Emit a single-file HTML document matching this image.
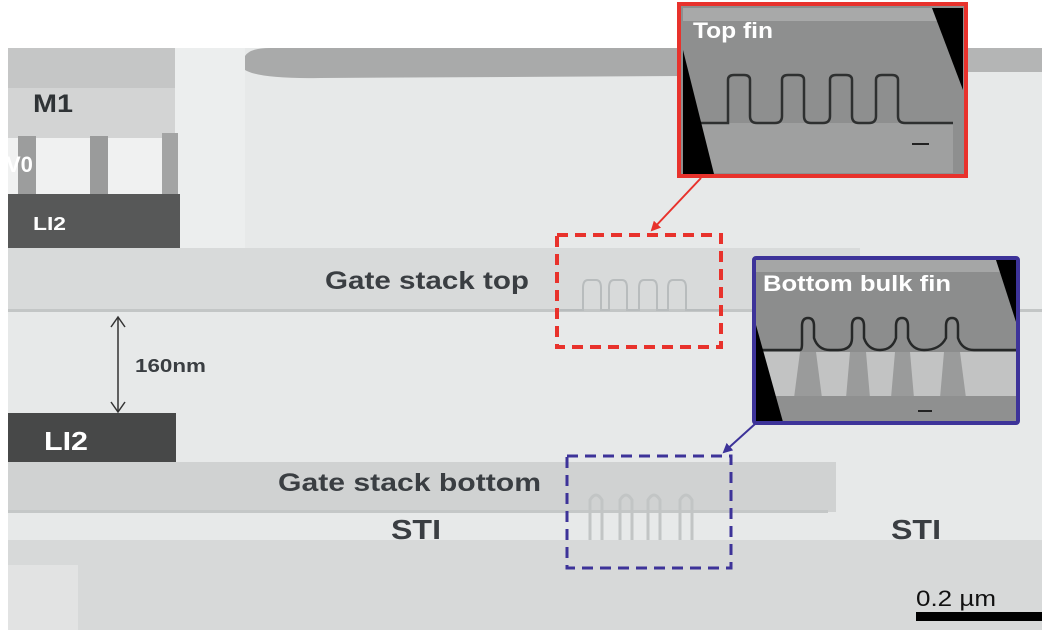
<!DOCTYPE html>
<html><head><meta charset="utf-8"><style>
html,body{margin:0;padding:0;background:#fff;}
svg{display:block;}
text{font-family:"Liberation Sans",sans-serif;font-weight:bold;}
</style></head><body>
<svg width="1046" height="633" viewBox="0 0 1046 633" xmlns="http://www.w3.org/2000/svg">
<defs>
<marker id="ar" markerWidth="10" markerHeight="10" refX="8" refY="5" orient="auto" markerUnits="userSpaceOnUse"><path d="M0,0 L10,5 L0,10 z" fill="#e8322c"/></marker>
<marker id="ab" markerWidth="10" markerHeight="10" refX="8" refY="5" orient="auto" markerUnits="userSpaceOnUse"><path d="M0,0 L10,5 L0,10 z" fill="#3d3399"/></marker>
</defs>
<rect x="8" y="48" width="1034" height="582" fill="#e7e9e9"/>
<rect x="175" y="48" width="70" height="200" fill="#eceeee"/>
<path d="M245,56 Q250,48 270,48 L680,48 L680,76 L320,78 Q260,79 245,70 z" fill="#a9aaaa"/>
<rect x="960" y="48" width="82" height="24" fill="#b4b5b5"/>
<rect x="8" y="48" width="167" height="40" fill="#c5c6c6"/>
<rect x="8" y="88" width="167" height="50" fill="#d3d4d4"/>
<rect x="8" y="138" width="167" height="57" fill="#f0f1f1"/>
<rect x="18" y="136" width="18" height="60" fill="#9c9d9d"/>
<rect x="90" y="136" width="18" height="60" fill="#9a9b9b"/>
<rect x="162" y="133" width="16" height="63" fill="#a3a4a4"/>
<rect x="8" y="194" width="172" height="55" fill="#575858"/>
<rect x="8" y="248" width="852" height="62" fill="#d8dada"/>
<rect x="8" y="309" width="1034" height="3" fill="#c3c6c6"/>
<path d="M560,310 L583,310 L583,288 Q583,280 588,280 L596,280 Q601,280 601,288 L601,310 L609,310 L609,288 Q609,280 614,280 L622,280 Q627,280 627,288 L627,310 L639,310 L639,288 Q639,280 644,280 L652,280 Q657,280 657,288 L657,310 L668,310 L668,288 Q668,280 673,280 L681,280 Q686,280 686,288 L686,310 L720,310" fill="none" stroke="#b8bcbd" stroke-width="2"/>
<rect x="8" y="413" width="168" height="50" fill="#474848"/>
<rect x="8" y="462" width="828" height="50" fill="#d0d2d2"/>
<rect x="8" y="510" width="820" height="3" fill="#c4c7c7"/>
<g fill="none" stroke="#c2c5c5" stroke-width="3">
<path d="M590,540 L590,500 Q596,490 602,500 L602,540"/>
<path d="M620,540 L620,500 Q626,490 632,500 L632,540"/>
<path d="M648,540 L648,500 Q654,490 660,500 L660,540"/>
<path d="M680,540 L680,500 Q686,490 692,500 L692,540"/>
</g>
<rect x="8" y="540" width="1034" height="90" fill="#d7d9d9"/>
<rect x="8" y="565" width="70" height="65" fill="#e2e3e3"/>
<text x="33" y="112" font-size="25" fill="#2f3336" textLength="40" lengthAdjust="spacingAndGlyphs">M1</text>
<text x="6" y="172" font-size="22" fill="#ffffff">V0</text>
<text x="33" y="230" font-size="18" fill="#ffffff" textLength="33" lengthAdjust="spacingAndGlyphs">LI2</text>
<text x="44" y="450" font-size="26" fill="#ffffff" textLength="44" lengthAdjust="spacingAndGlyphs">LI2</text>
<text x="325" y="289" font-size="25" fill="#3a3e42" textLength="204" lengthAdjust="spacingAndGlyphs">Gate stack top</text>
<text x="278" y="491" font-size="25" fill="#3a3e42" textLength="263" lengthAdjust="spacingAndGlyphs">Gate stack bottom</text>
<text x="391" y="539" font-size="28" fill="#3a3e42" textLength="50" lengthAdjust="spacingAndGlyphs">STI</text>
<text x="891" y="539" font-size="28" fill="#3a3e42" textLength="50" lengthAdjust="spacingAndGlyphs">STI</text>
<text x="135" y="372" font-size="18" fill="#3a3e42" textLength="71" lengthAdjust="spacingAndGlyphs">160nm</text>
<line x1="118" y1="318" x2="118" y2="411" stroke="#333" stroke-width="1.5"/>
<path d="M111,327 L118,317 L125,327" fill="none" stroke="#333" stroke-width="1.5"/>
<path d="M111,402 L118,412 L125,402" fill="none" stroke="#333" stroke-width="1.5"/>
<text x="916" y="606" font-size="22" style="font-weight:normal" fill="#111" textLength="80" lengthAdjust="spacingAndGlyphs">0.2 µm</text>
<rect x="916" y="612" width="126" height="9" fill="#000"/>
<rect x="557" y="235" width="164" height="112" fill="none" stroke="#e8322c" stroke-width="4" stroke-dasharray="11,7"/>
<rect x="567" y="456" width="164" height="112" fill="none" stroke="#3d3399" stroke-width="3" stroke-dasharray="11,7"/>
<line x1="701" y1="178" x2="652" y2="230" stroke="#e8322c" stroke-width="2" marker-end="url(#ar)"/>
<line x1="755" y1="424" x2="724" y2="452" stroke="#3d3399" stroke-width="2" marker-end="url(#ab)"/>
<rect x="681" y="6" width="284" height="170" fill="#8e8f8f"/>
<rect x="683" y="8" width="270" height="13" fill="#a8a9a9"/>
<path d="M683,123 L953,123 L953,173 L683,173 z" fill="#9fa0a0"/>
<path d="M683,123 L728,123 L728,80 Q728,75 734,75 L744,75 Q750,75 750,80 L750,116 Q750,123 757,123 L775,123 Q782,123 782,116 L782,80 Q782,75 788,75 L798,75 Q804,75 804,80 L804,116 Q804,123 811,123 L823,123 Q830,123 830,116 L830,80 Q830,75 836,75 L846,75 Q852,75 852,80 L852,116 Q852,123 859,123 L869,123 Q876,123 876,116 L876,80 Q876,75 882,75 L892,75 Q898,75 898,80 L898,116 Q898,123 905,123 L953,123" fill="#8e8f8f" stroke="#2e3030" stroke-width="2.5"/>
<path d="M683,50 L714,174 L683,174 z" fill="#000"/>
<path d="M932,8 L963,8 L963,90 z" fill="#000"/>
<rect x="912" y="143" width="17" height="2" fill="#222"/>
<rect x="679" y="4" width="287" height="172" fill="none" stroke="#e8322c" stroke-width="4"/>
<text x="693" y="38" font-size="22" fill="#ffffff" textLength="80" lengthAdjust="spacingAndGlyphs">Top fin</text>
<rect x="756" y="260" width="261" height="163" fill="#8c8d8d"/>
<rect x="756" y="260" width="261" height="12" fill="#a5a6a6"/>
<path d="M756,352 L1017,352 L1017,398 L756,398 z" fill="#c2c3c3"/>
<g fill="#9a9b9b">
<path d="M800,352 L816,352 L822,398 L794,398 z"/>
<path d="M850,352 L866,352 L870,398 L846,398 z"/>
<path d="M895,352 L910,352 L914,398 L891,398 z"/>
<path d="M944,352 L960,352 L966,398 L940,398 z"/>
</g>
<rect x="756" y="396" width="261" height="25" fill="#8f9090"/>
<path d="M756,350 L800,350 Q802,350 802,344 L802,326 Q802,318 808,318 Q814,318 814,326 L814,338 Q818,350 830,350 L838,350 Q852,350 852,338 L852,326 Q852,318 858,318 Q864,318 864,326 L864,338 Q868,350 880,350 Q892,350 896,338 L896,326 Q896,318 902,318 Q908,318 908,326 L908,338 Q912,350 924,350 Q940,350 946,338 L946,326 Q946,318 952,318 Q958,318 958,326 L958,338 Q962,350 974,350 L1017,350" fill="none" stroke="#262828" stroke-width="2.5"/>
<path d="M756,325 L783,422 L756,422 z" fill="#000"/>
<path d="M996,260 L1017,260 L1017,325 z" fill="#000"/>
<rect x="918" y="410" width="14" height="2" fill="#222"/>
<rect x="754" y="258" width="264" height="165" fill="none" stroke="#3d3399" stroke-width="4" rx="2"/>
<text x="763" y="291" font-size="22" fill="#ffffff" textLength="188" lengthAdjust="spacingAndGlyphs">Bottom bulk fin</text>
</svg>
</body></html>
